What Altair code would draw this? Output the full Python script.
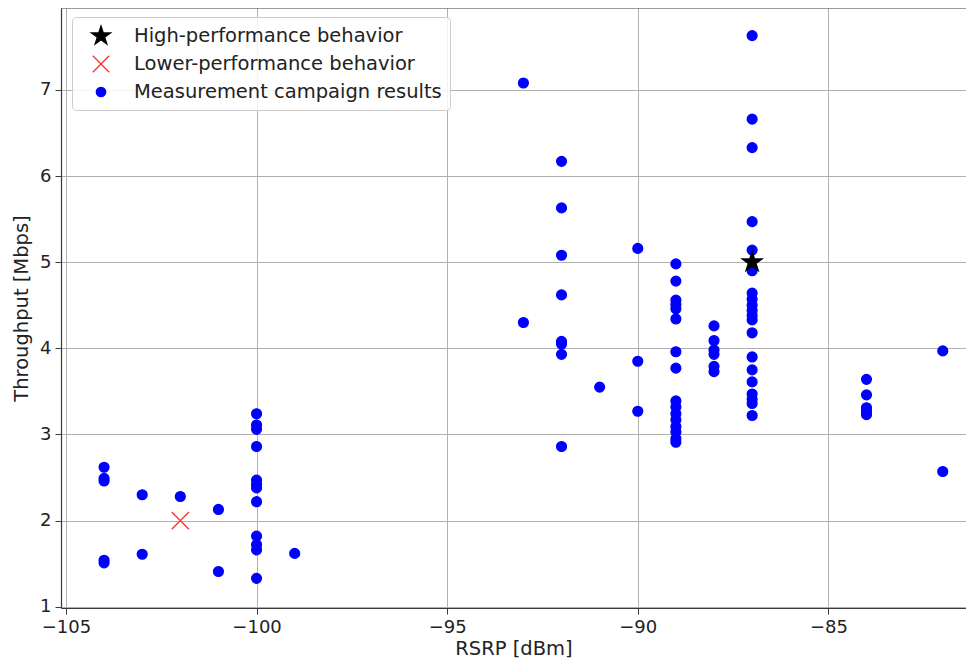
import altair as alt
import pandas as pd

# Measurement campaign results, grouped by RSRP value
meas_rsrp = (
    [-104] * 5 + [-103] * 2 + [-102] * 1 + [-101] * 2 + [-100] * 12 + [-99] * 1
    + [-93] * 2 + [-92] * 8 + [-91] * 1 + [-90] * 3 + [-89] * 16 + [-88] * 6
    + [-87] * 20 + [-84] * 5 + [-82] * 2
)
meas_tput = (
    [2.62, 2.49, 2.46, 1.54, 1.51]
    + [2.30, 1.61]
    + [2.28]
    + [2.13, 1.41]
    + [3.24, 3.11, 3.06, 2.86, 2.47, 2.42, 2.38, 2.22, 1.82, 1.72, 1.66, 1.33]
    + [1.62]
    + [7.08, 4.30]
    + [6.17, 5.63, 5.08, 4.62, 4.08, 4.05, 3.93, 2.86]
    + [3.55]
    + [5.16, 3.85, 3.27]
    + [4.98, 4.78, 4.56, 4.51, 4.46, 4.34, 3.96, 3.77, 3.39, 3.32, 3.24, 3.17, 3.09, 3.03, 2.95, 2.91]
    + [4.26, 4.09, 3.98, 3.93, 3.79, 3.73]
    + [7.63, 6.66, 6.33, 5.47, 5.14, 4.90, 4.64, 4.57, 4.50, 4.44, 4.38, 4.33, 4.18, 3.90, 3.75, 3.61, 3.47, 3.41, 3.36, 3.22]
    + [3.64, 3.46, 3.31, 3.27, 3.23]
    + [3.97, 2.57]
)

high_rsrp = [-87]
high_tput = [5.0]
low_rsrp = [-102]
low_tput = [2.0]

series_names = [
    "High-performance behavior",
    "Lower-performance behavior",
    "Measurement campaign results",
]
x_ticks = [-105, -100, -95, -90, -85]
y_ticks = [1, 2, 3, 4, 5, 6, 7]

rows = []
for r, t in zip(meas_rsrp, meas_tput):
    rows.append({"rsrp": r, "tput": t, "series": series_names[2], "ord": 0})
for r, t in zip(high_rsrp, high_tput):
    rows.append({"rsrp": r, "tput": t, "series": series_names[0], "ord": 1})
for r, t in zip(low_rsrp, low_tput):
    rows.append({"rsrp": r, "tput": t, "series": series_names[1], "ord": 2})
df = pd.DataFrame(rows)

star_path = ("M0,-1L0.2245,-0.309L0.951,-0.309L0.363,0.118L0.588,0.809L0,0.382"
             "L-0.588,0.809L-0.363,0.118L-0.951,-0.309L-0.2245,-0.309Z")
x_path = "M-0.82,-0.82L0.82,0.82M-0.82,0.82L0.82,-0.82"
dot_path = "M-0.47,0A0.47,0.47 0 1,0 0.47,0A0.47,0.47 0 1,0 -0.47,0Z"
shapes = [star_path, x_path, dot_path]
stroke_colors = ["#000000", "#ff3030", "#0000ff"]
fill_colors = ["#000000", "transparent", "#0000ff"]

FONT = "DejaVu Sans"
SPINE = "#3a3a3a"

legend = alt.Legend(
    title=None,
    orient="none",
    legendX=11,
    legendY=9,
    padding=8,
    symbolOffset=10,
    labelOffset=22,
    rowPadding=6,
    symbolSize=400,
    symbolStrokeWidth=1.3,
    labelFont=FONT,
    labelFontSize=19.5,
    labelColor="#222222",
    fillColor="rgba(255,255,255,0.85)",
    strokeColor="#cccccc",
    cornerRadius=4,
    labelLimit=450,
)

points = (
    alt.Chart(df)
    .mark_point(filled=False, opacity=1, strokeWidth=1.3, size=440)
    .encode(
        x=alt.X(
            "rsrp:Q",
            scale=alt.Scale(domain=[-105.13, -81.39], nice=False, zero=False),
            axis=alt.Axis(values=x_ticks, title="RSRP [dBm]", format="d",
                          labelPadding=4, titlePadding=3),
        ),
        y=alt.Y(
            "tput:Q",
            scale=alt.Scale(domain=[0.986, 7.95], nice=False, zero=False),
            axis=alt.Axis(values=y_ticks, title="Throughput [Mbps]", format="d",
                          labelPadding=4, titlePadding=8),
        ),
        shape=alt.Shape("series:N", scale=alt.Scale(domain=series_names, range=shapes), legend=legend),
        color=alt.Color("series:N", scale=alt.Scale(domain=series_names, range=stroke_colors), legend=legend),
        fill=alt.Fill("series:N", scale=alt.Scale(domain=series_names, range=fill_colors), legend=legend),
        order=alt.Order("ord:Q"),
    )
)

top_spine = (
    alt.Chart(pd.DataFrame({"k": [0]}))
    .mark_rule(color=SPINE, strokeWidth=1.2)
    .encode(y=alt.value(0))
)

chart = (
    alt.layer(points, top_spine)
    .properties(
        width=905,
        height=600,
        autosize=alt.AutoSizeParams(type="none"),
        padding={"left": 53, "top": 0, "right": 0, "bottom": 55},
    )
    .configure_view(stroke=None)
    .configure_axis(
        domain=True,
        domainColor=SPINE,
        domainWidth=1.2,
        grid=True,
        gridColor="#b0b0b0",
        gridWidth=1,
        tickColor=SPINE,
        tickSize=6,
        labelFont=FONT,
        labelFontSize=18,
        labelColor="#222222",
        titleFont=FONT,
        titleFontSize=19.5,
        titleFontWeight="normal",
        titleColor="#222222",
    )
)

chart.save("out.html", embed_options={"renderer": "svg", "actions": False})
